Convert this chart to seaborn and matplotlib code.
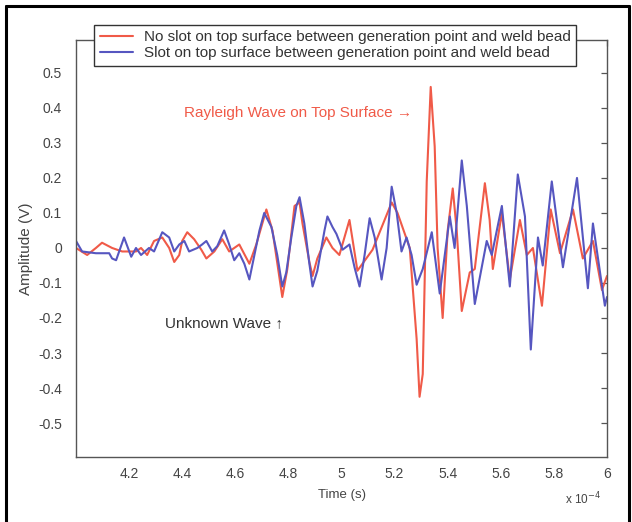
import matplotlib
matplotlib.use("Agg")
import matplotlib.pyplot as plt
import seaborn as sns
import pandas as pd
from matplotlib.lines import Line2D

# ---- data (time in units of 1e-4 s, amplitude in V) ----
blue_t = [4.000, 4.023, 4.075, 4.125, 4.136, 4.151, 4.181, 4.208, 4.226, 4.245,
          4.275, 4.294, 4.325, 4.351, 4.370, 4.389, 4.408, 4.426, 4.457, 4.475,
          4.491, 4.513, 4.532, 4.558, 4.577, 4.596, 4.615, 4.634, 4.653, 4.672,
          4.691, 4.709, 4.736, 4.758, 4.777, 4.792, 4.811, 4.830, 4.842, 4.860,
          4.879, 4.891, 4.909, 4.936, 4.947, 4.966, 4.981, 5.004, 5.030, 5.049,
          5.068, 5.087, 5.106, 5.125, 5.151, 5.170, 5.189, 5.208, 5.226, 5.245,
          5.264, 5.283, 5.306, 5.340, 5.370, 5.408, 5.426, 5.453, 5.472, 5.502,
          5.547, 5.566, 5.604, 5.634, 5.664, 5.691, 5.713, 5.740, 5.758, 5.792,
          5.834, 5.887, 5.928, 5.947, 5.992, 6.000]
blue_v = [0.02, -0.01, -0.015, -0.015, -0.03, -0.035, 0.03, -0.025, 0.0, -0.02,
          0.0, -0.01, 0.045, 0.03, -0.01, 0.01, 0.02, -0.01, 0.0, 0.01,
          0.02, -0.01, 0.005, 0.05, 0.01, -0.035, -0.015, -0.045, -0.09, -0.02,
          0.05, 0.10, 0.06, -0.02, -0.11, -0.07, 0.03, 0.12, 0.145, 0.07,
          -0.045, -0.11, -0.065, 0.05, 0.09, 0.06, 0.04, -0.005, 0.01, -0.055,
          -0.11, -0.02, 0.085, 0.03, -0.09, 0.0, 0.175, 0.10, -0.01, 0.03,
          -0.02, -0.105, -0.06, 0.045, -0.13, 0.09, 0.0, 0.25, 0.12, -0.16,
          0.02, -0.02, 0.12, -0.11, 0.21, 0.09, -0.29, 0.03, -0.05, 0.19,
          -0.055, 0.20, -0.115, 0.07, -0.165, -0.14]

red_t = [4.000, 4.042, 4.075, 4.098, 4.136, 4.174, 4.226, 4.245, 4.268, 4.294,
         4.325, 4.351, 4.370, 4.389, 4.400, 4.419, 4.445, 4.472, 4.491, 4.521,
         4.551, 4.577, 4.615, 4.653, 4.679, 4.717, 4.740, 4.777, 4.796, 4.823,
         4.842, 4.853, 4.879, 4.891, 4.909, 4.943, 4.966, 4.992, 5.030, 5.060,
         5.117, 5.189, 5.211, 5.257, 5.283, 5.294, 5.306, 5.321, 5.336, 5.351,
         5.362, 5.381, 5.400, 5.419, 5.434, 5.453, 5.483, 5.502, 5.540, 5.558,
         5.570, 5.604, 5.634, 5.672, 5.698, 5.721, 5.755, 5.788, 5.823, 5.872,
         5.909, 5.947, 5.981, 6.000]
red_v = [0.0, -0.02, 0.0, 0.015, 0.0, -0.01, -0.01, 0.0, -0.02, 0.02,
         0.03, 0.0, -0.04, -0.02, 0.02, 0.045, 0.025, -0.005, -0.03, -0.01,
         0.025, -0.01, 0.01, -0.045, 0.01, 0.11, 0.05, -0.14, -0.06, 0.12,
         0.13, 0.07, -0.04, -0.08, -0.03, 0.03, 0.0, -0.02, 0.08, -0.065,
         -0.005, 0.13, 0.10, 0.0, -0.26, -0.425, -0.36, 0.19, 0.46, 0.29,
         0.0, -0.2, 0.05, 0.17, 0.05, -0.18, -0.07, -0.06, 0.185, 0.08,
         -0.06, 0.10, -0.09, 0.08, -0.02, 0.0, -0.165, 0.11, -0.015, 0.11,
         -0.03, 0.02, -0.12, -0.08]

series_names = ["No slot on top surface between generation point and weld bead",
                "Slot on top surface between generation point and weld bead"]
x_ticks = [4.2, 4.4, 4.6, 4.8, 5.0, 5.2, 5.4, 5.6, 5.8, 6.0]
x_tick_labels = ["4.2", "4.4", "4.6", "4.8", "5", "5.2", "5.4", "5.6", "5.8", "6"]
y_ticks = [-0.5, -0.4, -0.3, -0.2, -0.1, 0.0, 0.1, 0.2, 0.3, 0.4, 0.5]
y_tick_labels = ["-0.5", "-0.4", "-0.3", "-0.2", "-0.1", "0", "0.1", "0.2", "0.3", "0.4", "0.5"]

RED = "#f05a48"
BLUE = "#5656c0"

df = pd.concat([
    pd.DataFrame({"t": red_t, "v": red_v, "series": series_names[0]}),
    pd.DataFrame({"t": blue_t, "v": blue_v, "series": series_names[1]}),
], ignore_index=True)

sns.set_theme(style="white")
plt.rcParams["font.family"] = ["Liberation Sans", "DejaVu Sans"]

fig = plt.figure(figsize=(6.32, 5.22), dpi=100)
ax = fig.add_axes([76 / 632, 1 - 457 / 522, (607 - 76) / 632, (457 - 40) / 522])

sns.lineplot(data=df, x="t", y="v", hue="series", palette=[RED, BLUE],
             sort=False, estimator=None, linewidth=1.5, ax=ax, legend=False)
for ln in ax.get_lines():
    ln.set_solid_joinstyle("round")
    ln.set_solid_capstyle("round")

ax.set_xlim(4.0, 6.0)
ax.set_ylim(-0.597, 0.594)
ax.set_xticks(x_ticks)
ax.set_xticklabels(x_tick_labels)
ax.set_yticks(y_ticks)
ax.set_yticklabels(y_tick_labels)
ax.tick_params(direction="in", top=True, right=True, length=4, width=0.9,
               colors="#555555", labelcolor="#444444", labelsize=10, pad=7)
ax.tick_params(axis="y", pad=10)
for s in ax.spines.values():
    s.set_color("#555555")
    s.set_linewidth(1.0)

ax.set_xlabel("Time (s)", fontsize=9.5, color="#444444", labelpad=6)
ax.set_ylabel("Amplitude (V)", fontsize=11, color="#444444", labelpad=4)
ax.text(0.988, -0.082, r"x 10$^{-4}$", transform=ax.transAxes, ha="right", va="top",
        fontsize=8.5, color="#444444")

handles = [Line2D([], [], color=RED, lw=1.5), Line2D([], [], color=BLUE, lw=1.5)]
leg = ax.legend(handles, series_names, loc="upper center", bbox_to_anchor=(0.488, 1.037),
                fontsize=11, frameon=True, fancybox=False, edgecolor="#333333",
                handlelength=2.2, handletextpad=0.7, borderpad=0.35, labelspacing=0.15,
                borderaxespad=0.0, framealpha=1)
leg.get_frame().set_linewidth(1.0)
for t in leg.get_texts():
    t.set_color("#333333")

ax.text(5.265, 0.386, "Rayleigh Wave on Top Surface \u2192", color=RED, fontsize=11,
        ha="right", va="center")
ax.text(4.335, -0.214, "Unknown Wave \u2191", color="#333333", fontsize=11,
        ha="left", va="center")

# outer frame of the image
fr = dict(transform=fig.transFigure, color="black", lw=2.2)
fig.add_artist(Line2D([6 / 632, 6 / 632], [0, 1 - 6 / 522], **fr))
fig.add_artist(Line2D([6 / 632, 629 / 632], [1 - 6 / 522, 1 - 6 / 522], **fr))
fig.add_artist(Line2D([629 / 632, 629 / 632], [0, 1 - 6 / 522], **fr))

fig.savefig("out.png", dpi=100)
